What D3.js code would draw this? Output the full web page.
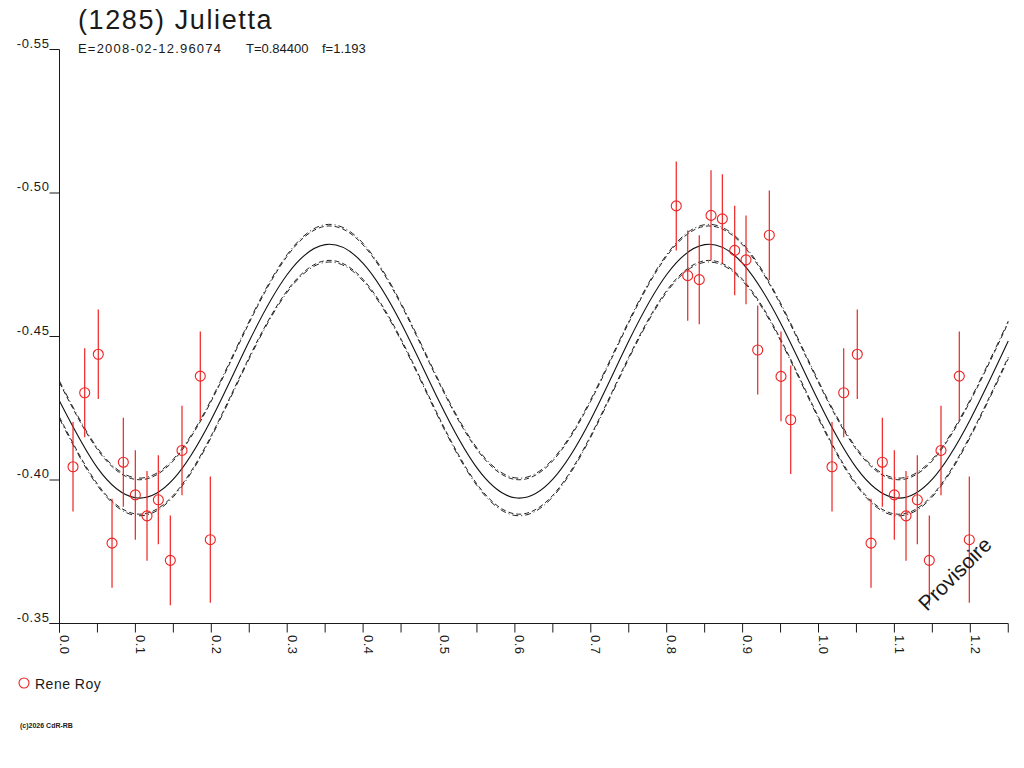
<!DOCTYPE html>
<html>
<head>
<meta charset="utf-8">
<style>
  body { margin: 0; background: #fff; }
  svg text { font-family: "Liberation Sans", Arial, sans-serif; fill: #1a1a1a; }
</style>
</head>
<body>
<script src="https://cdn.jsdelivr.net/npm/d3@7/dist/d3.min.js"></script>
<svg id="chart" width="1024" height="768"></svg>
<script>
// observations (one period), plotted again at phase + 1 while < 1.25
var obsPhase = [0.0178, 0.0332, 0.0511, 0.0692, 0.0841, 0.0999, 0.1153, 0.1302, 0.1460, 0.1614, 0.1855, 0.1987,
                0.8126, 0.8277, 0.8429, 0.8584, 0.8733, 0.8896, 0.9045, 0.9199, 0.9352, 0.9506, 0.9634];
var obsMag = [-0.4046, -0.4304, -0.4438, -0.3780, -0.4062, -0.3948, -0.3875, -0.3931, -0.3720, -0.4103, -0.4362, -0.3792,
              -0.4955, -0.4712, -0.4698, -0.4922, -0.4910, -0.4800, -0.4767, -0.4453, -0.4853, -0.4361, -0.4210];
var obsErr = [0.0156, 0.0155, 0.0156, 0.0155, 0.0155, 0.0156, 0.0156, 0.0155, 0.0156, 0.0156, 0.0155, 0.0220,
              0.0155, 0.0157, 0.0155, 0.0157, 0.0155, 0.0156, 0.0155, 0.0155, 0.0156, 0.0156, 0.0189];

// fitted curve and its envelope, read every 0.05 in phase
var fitPhase = [0, 0.05, 0.10, 0.15, 0.20, 0.25, 0.30, 0.35, 0.40, 0.45, 0.50, 0.55, 0.60,
                0.65, 0.70, 0.75, 0.80, 0.85, 0.90, 0.95, 1.00, 1.05, 1.10, 1.15, 1.20, 1.25];
var fitMag = [-0.4275, -0.4042, -0.3938, -0.4003, -0.4211, -0.4484, -0.4716, -0.4820, -0.4755, -0.4547,
              -0.4275, -0.4042, -0.3938, -0.4003, -0.4211, -0.4484, -0.4716, -0.4820, -0.4755, -0.4547,
              -0.4275, -0.4042, -0.3938, -0.4003, -0.4211, -0.4484];
var upperMag = [-0.4339, -0.4106, -0.4002, -0.4067, -0.4275, -0.4548, -0.4780, -0.4884, -0.4819, -0.4611,
                -0.4339, -0.4106, -0.4002, -0.4067, -0.4275, -0.4548, -0.4780, -0.4884, -0.4819, -0.4611,
                -0.4339, -0.4106, -0.4002, -0.4067, -0.4275, -0.4548];
var lowerMag = [-0.4219, -0.3986, -0.3882, -0.3947, -0.4155, -0.4428, -0.4660, -0.4764, -0.4699, -0.4491,
                -0.4219, -0.3986, -0.3882, -0.3947, -0.4155, -0.4428, -0.4660, -0.4764, -0.4699, -0.4491,
                -0.4219, -0.3986, -0.3882, -0.3947, -0.4155, -0.4428];

var xTicks = [0, 0.1, 0.2, 0.3, 0.4, 0.5, 0.6, 0.7, 0.8, 0.9, 1.0, 1.1, 1.2];
var xMinor = [0.05, 0.15, 0.25, 0.35, 0.45, 0.55, 0.65, 0.75, 0.85, 0.95, 1.05, 1.15, 1.25];
var yTicks = [-0.55, -0.50, -0.45, -0.40, -0.35];

var svg = d3.select("#chart");
var x = d3.scaleLinear().domain([0, 1.25]).range([59.5, 1008.25]);
var y = d3.scaleLinear().domain([-0.35, -0.55]).range([623.5, 49.5]);

// curves
function curveData(mags) {
  return fitPhase.map(function(p, i) { return [p, mags[i]]; });
}
var line = d3.line()
  .x(function(d) { return x(d[0]); })
  .y(function(d) { return y(d[1]); })
  .curve(d3.curveNatural);

svg.append("path").attr("d", line(curveData(fitMag)))
  .attr("fill", "none").attr("stroke", "#111").attr("stroke-width", 1.1);

[[upperMag, -1.6], [lowerMag, 1.6]].forEach(function(b) {
  svg.append("path").attr("d", line(curveData(b[0])))
    .attr("fill", "none").attr("stroke", "#222").attr("stroke-width", 1)
    .attr("stroke-dasharray", "5,3");
  svg.append("path").attr("d", line(curveData(b[0])))
    .attr("transform", "translate(0," + b[1] + ")")
    .attr("fill", "none").attr("stroke", "#222").attr("stroke-width", 1)
    .attr("stroke-dasharray", "6,3,1,3");
});

// observations
var pts = [];
obsPhase.forEach(function(p, i) {
  pts.push({ p: p, m: obsMag[i], e: obsErr[i] });
  if (p + 1 <= 1.25) pts.push({ p: p + 1, m: obsMag[i], e: obsErr[i] });
});
var red = "#ee2222";
svg.selectAll("line.err").data(pts).enter().append("line")
  .attr("class", "err")
  .attr("x1", function(d) { return x(d.p); })
  .attr("x2", function(d) { return x(d.p); })
  .attr("y1", function(d) { return y(d.m - d.e); })
  .attr("y2", function(d) { return y(d.m + d.e); })
  .attr("stroke", red).attr("stroke-width", 1.2);
svg.selectAll("circle.obs").data(pts).enter().append("circle")
  .attr("class", "obs")
  .attr("cx", function(d) { return x(d.p); })
  .attr("cy", function(d) { return y(d.m); })
  .attr("r", 5)
  .attr("fill", "none").attr("stroke", red).attr("stroke-width", 1.1);

// axes
var axisCol = "#1a1a1a";
svg.append("line").attr("x1", x(0)).attr("x2", x(0)).attr("y1", y(-0.55)).attr("y2", y(-0.35) + 9)
  .attr("stroke", axisCol);
svg.append("line").attr("x1", x(0) - 10).attr("x2", x(1.25)).attr("y1", y(-0.35)).attr("y2", y(-0.35))
  .attr("stroke", axisCol);

svg.selectAll("line.ytick").data(yTicks).enter().append("line")
  .attr("x1", x(0) - 10).attr("x2", x(0))
  .attr("y1", function(d) { return y(d); }).attr("y2", function(d) { return y(d); })
  .attr("stroke", axisCol);
svg.selectAll("text.ylab").data(yTicks).enter().append("text")
  .attr("x", x(0) - 10).attr("y", function(d) { return y(d) - 2; })
  .attr("text-anchor", "end").attr("font-size", 13).attr("letter-spacing", 0.6)
  .text(function(d) { return d.toFixed(2); });

svg.selectAll("line.xtick").data(xTicks.concat(xMinor)).enter().append("line")
  .attr("x1", function(d) { return x(d); }).attr("x2", function(d) { return x(d); })
  .attr("y1", y(-0.35)).attr("y2", y(-0.35) + 9)
  .attr("stroke", axisCol);
svg.selectAll("text.xlab").data(xTicks).enter().append("text")
  .attr("transform", function(d) { return "translate(" + (x(d) + 0.5) + "," + 635 + ") rotate(90)"; })
  .attr("font-size", 13).attr("letter-spacing", 0.5)
  .text(function(d) { return d.toFixed(1); });

// titles
svg.append("text").attr("x", 78).attr("y", 29).attr("font-size", 27).attr("letter-spacing", 1.6)
  .text("(1285) Julietta");
var sub = svg.append("g").attr("font-size", 13);
sub.append("text").attr("x", 78).attr("y", 53).attr("letter-spacing", 1.2).text("E=2008-02-12.96074");
sub.append("text").attr("x", 246).attr("y", 53).text("T=0.84400");
sub.append("text").attr("x", 322).attr("y", 53).text("f=1.193");

svg.append("text").attr("transform", "translate(927,612) rotate(-45)")
  .attr("font-size", 21).text("Provisoire");

// legend
svg.append("circle").attr("cx", 24).attr("cy", 683).attr("r", 5)
  .attr("fill", "none").attr("stroke", red).attr("stroke-width", 1.1);
svg.append("text").attr("x", 35).attr("y", 688.5).attr("font-size", 14).attr("letter-spacing", 0.5).text("Rene Roy");

svg.append("text").attr("x", 20).attr("y", 728).attr("font-size", 7).attr("font-weight", "bold")
  .text("(c)2026 CdR-RB");
</script>
</body>
</html>
